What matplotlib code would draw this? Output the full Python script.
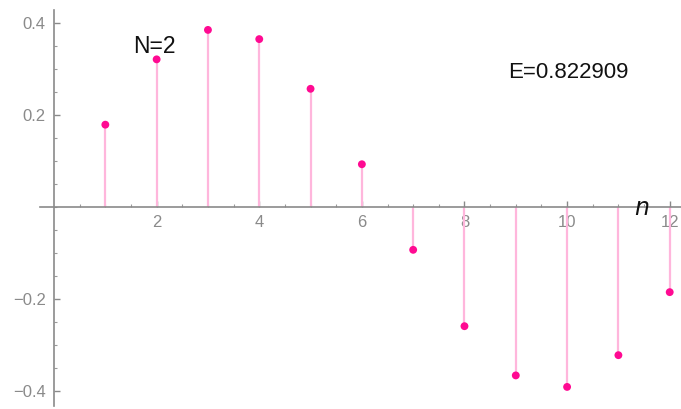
import matplotlib
matplotlib.use("Agg")
import matplotlib.pyplot as plt
import numpy as np
from matplotlib.ticker import FixedLocator

n = [1, 2, 3, 4, 5, 6, 7, 8, 9, 10, 11, 12]
values = [0.179, 0.321, 0.385, 0.365, 0.257, 0.093, -0.093, -0.259, -0.366, -0.391, -0.322, -0.185]
xticks = [2, 4, 6, 8, 10, 12]
yticks = [-0.4, -0.2, 0.2, 0.4]
ytick_labels = ["\u22120.4", "\u22120.2", "0.2", "0.4"]

fig = plt.figure(figsize=(6.81, 4.09), dpi=100)
ax = fig.add_axes([0, 0, 1, 1])
ax.set_xlim(-1.053, 12.22)
ax.set_ylim(-0.439, 0.45)

ax.vlines(n, 0, values, color="#ffb6dc", lw=1.6, zorder=2)
ax.scatter(n, values, s=32, color="#ff0a92", zorder=3, edgecolors="none")

for s in ["top", "right"]:
    ax.spines[s].set_visible(False)
ax.spines["left"].set_position(("data", 0))
ax.spines["bottom"].set_position(("data", 0))
ax.spines["left"].set_bounds(-0.432, 0.428)
ax.spines["bottom"].set_bounds(-0.27, 12.22)
for s in ["left", "bottom"]:
    ax.spines[s].set_color("#8a8a8a")
    ax.spines[s].set_linewidth(1.2)

ax.xaxis.set_major_locator(FixedLocator(xticks))
ax.xaxis.set_minor_locator(FixedLocator(np.arange(0.5, 12.01, 0.5)))
ax.yaxis.set_major_locator(FixedLocator(yticks))
ax.yaxis.set_minor_locator(FixedLocator(np.round(np.arange(-0.4, 0.401, 0.05), 3)))
ax.set_yticklabels(ytick_labels)
ax.tick_params(axis="x", which="major", direction="in", length=4, width=1, color="#8a8a8a",
               labelcolor="#8a8a8a", labelsize=12, pad=6)
ax.tick_params(axis="y", which="major", direction="in", length=4, width=1, color="#8a8a8a",
               labelcolor="#8a8a8a", labelsize=12, pad=6)
ax.tick_params(which="minor", direction="in", length=2.5, width=0.8, color="#9a9a9a")
for lab in ax.get_xticklabels() + ax.get_yticklabels():
    lab.set_family("Liberation Sans")

ax.text(11.45, -0.003, "n", fontsize=17, style="italic", color="#111111", ha="center",
        va="center", family="DejaVu Sans")
ax.text(1.55, 0.348, "N=2", fontsize=16.5, color="#111111", ha="left", va="center",
        family="Liberation Sans")
ax.text(8.85, 0.293, "E=0.822909", fontsize=16, color="#111111", ha="left", va="center",
        family="Liberation Sans")

fig.savefig("out.png", dpi=100)
